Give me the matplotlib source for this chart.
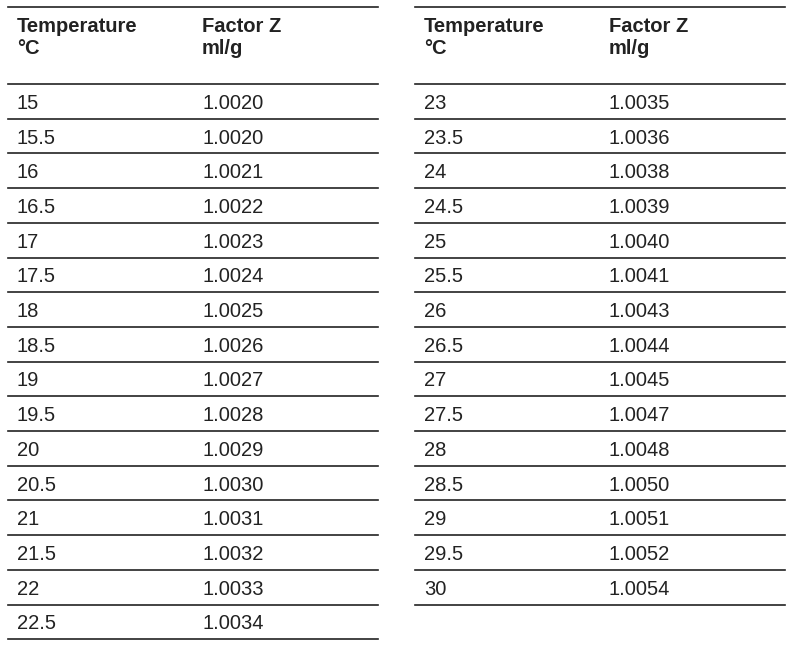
import matplotlib
matplotlib.use("Agg")
import matplotlib.pyplot as plt

left_temps = ["15","15.5","16","16.5","17","17.5","18","18.5","19","19.5","20","20.5","21","21.5","22","22.5"]
left_z = ["1.0020","1.0020","1.0021","1.0022","1.0023","1.0024","1.0025","1.0026","1.0027","1.0028","1.0029","1.0030","1.0031","1.0032","1.0033","1.0034"]
right_temps = ["23","23.5","24","24.5","25","25.5","26","26.5","27","27.5","28","28.5","29","29.5","30"]
right_z = ["1.0035","1.0036","1.0038","1.0039","1.0040","1.0041","1.0043","1.0044","1.0045","1.0047","1.0048","1.0050","1.0051","1.0052","1.0054"]
headers = [("Temperature", "°C"), ("Factor Z", "ml/g")]

plt.rcParams['font.family'] = ['Liberation Sans', 'DejaVu Sans']
fig = plt.figure(figsize=(7.98, 6.53), dpi=100)
ax = fig.add_axes([0, 0, 1, 1])
ax.set_xlim(0, 798); ax.set_ylim(653, 0); ax.axis('off')

col = '#222222'
row_h = 34.7
fs = 14.5
def table(x0, x1, cx, temps, zs):
    ax.plot([x0, x1], [7, 7], color=col, lw=1.2)
    for (h1, h2), c in zip(headers, cx):
        ax.text(c, 26, h1, fontsize=fs, fontweight='bold', va='center', color=col)
        ax.text(c, 49, h2, fontsize=fs, fontweight='bold', va='center', color=col)
    ax.plot([x0, x1], [84, 84], color=col, lw=1.2)
    for i, (t, z) in enumerate(zip(temps, zs)):
        yc = 84 + row_h * i + row_h / 2 + 2
        ax.text(cx[0], yc, t, fontsize=fs, va='center', color=col)
        ax.text(cx[1], yc, z, fontsize=fs, va='center', color=col)
        yl = 84 + row_h * (i + 1)
        ax.plot([x0, x1], [yl, yl], color=col, lw=1.2)

table(8, 378, (17, 202), left_temps, left_z)
table(415, 785, (424, 609), right_temps, right_z)
fig.savefig("out.png", dpi=100, facecolor='white')
